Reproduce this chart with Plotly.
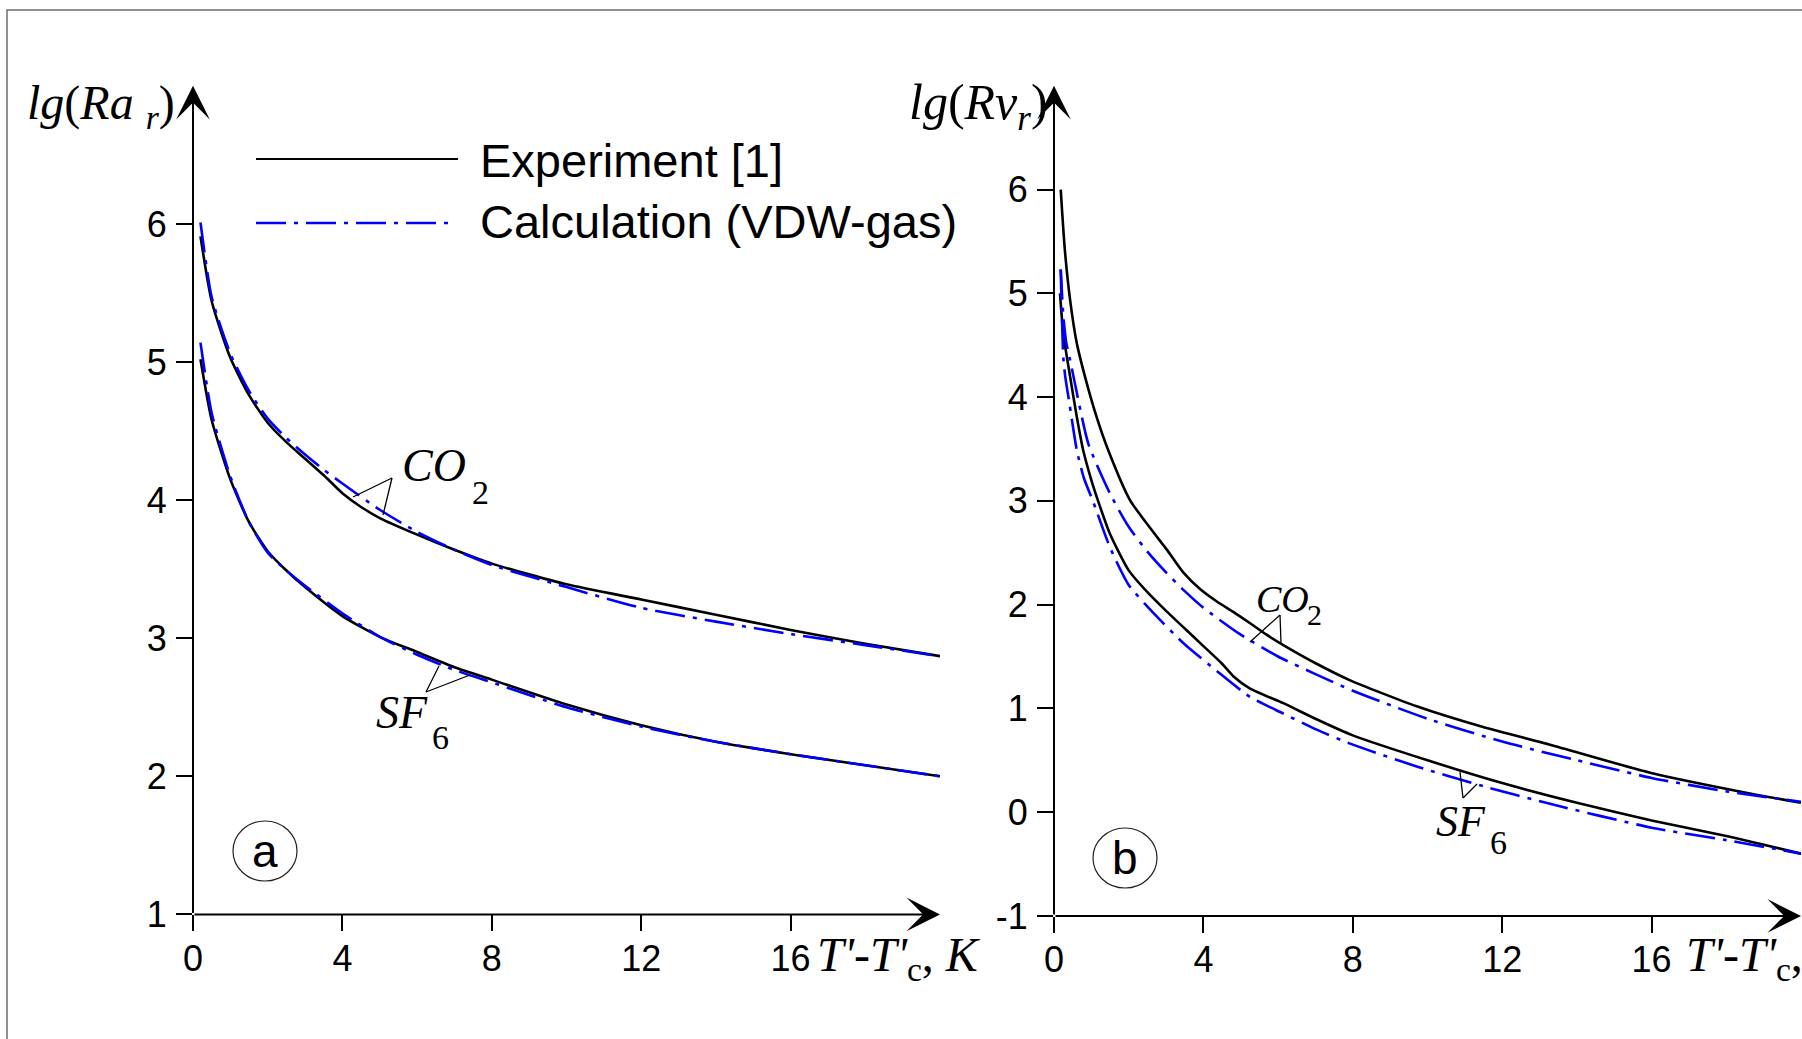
import plotly.graph_objects as go

W, H = 1802, 1039

# ---------------- data ----------------
# panel a : lg(Ra_r) vs T'-T'c
co2_exp_a_x = [0.2, 0.5, 1.0, 1.5, 2.0, 2.5, 3.0, 3.5, 4.0, 4.5, 5.0, 6.0, 7.0, 8.0, 10.0, 12.0, 14.0, 16.0, 18.0, 20.0]
co2_exp_a_y = [5.91, 5.44, 5.03, 4.76, 4.56, 4.42, 4.30, 4.18, 4.05, 3.95, 3.87, 3.75, 3.64, 3.54, 3.39, 3.28, 3.17, 3.06, 2.96, 2.87]
co2_calc_a_x = [0.2, 0.5, 1.0, 1.5, 2.0, 2.5, 3.0, 3.5, 4.0, 5.0, 6.0, 7.0, 8.0, 10.0, 12.0, 14.0, 16.0, 18.0, 20.0]
co2_calc_a_y = [6.01, 5.47, 5.06, 4.79, 4.59, 4.45, 4.33, 4.22, 4.12, 3.93, 3.77, 3.64, 3.53, 3.37, 3.22, 3.12, 3.03, 2.95, 2.87]
sf6_exp_a_x = [0.2, 0.5, 1.0, 1.5, 2.0, 2.5, 3.0, 4.0, 5.0, 6.0, 7.0, 8.0, 10.0, 12.0, 14.0, 16.0, 18.0, 20.0]
sf6_exp_a_y = [5.02, 4.58, 4.15, 3.84, 3.63, 3.49, 3.37, 3.16, 3.01, 2.90, 2.79, 2.70, 2.52, 2.37, 2.25, 2.16, 2.08, 2.00]
sf6_calc_a_x = [0.2, 0.5, 1.0, 1.5, 2.0, 2.5, 3.0, 4.0, 5.0, 6.0, 7.0, 8.0, 10.0, 12.0, 14.0, 16.0, 18.0, 20.0]
sf6_calc_a_y = [5.14, 4.63, 4.17, 3.84, 3.62, 3.49, 3.38, 3.18, 3.01, 2.88, 2.77, 2.68, 2.50, 2.36, 2.25, 2.16, 2.08, 2.00]

# panel b : lg(Rv_r) vs T'-T'c
co2_exp_b_x = [0.18, 0.29, 0.43, 0.61, 0.88, 1.14, 1.45, 2.03, 2.57, 3.02, 3.46, 3.91, 4.36, 4.8, 5.25, 5.69, 6.14, 7.03, 7.93, 9.71, 11.49, 13.28, 15.96, 18.63, 20.0]
co2_exp_b_y = [6.00, 5.42, 4.94, 4.52, 4.13, 3.81, 3.49, 3.01, 2.74, 2.53, 2.31, 2.15, 2.03, 1.93, 1.82, 1.71, 1.61, 1.43, 1.27, 1.02, 0.82, 0.65, 0.38, 0.18, 0.09]
co2_calc_b_x = [0.18, 0.25, 0.33, 0.43, 0.56, 0.92, 1.5, 2.0, 2.5, 3.0, 3.5, 4.0, 5.0, 6.0, 7.0, 8.0, 10.0, 12.0, 14.0, 16.0, 18.0, 20.0]
co2_calc_b_y = [5.23, 4.78, 4.52, 4.36, 4.13, 3.55, 3.07, 2.75, 2.51, 2.31, 2.13, 1.97, 1.71, 1.50, 1.33, 1.17, 0.90, 0.68, 0.50, 0.33, 0.20, 0.10]
sf6_exp_b_x = [0.16, 0.25, 0.43, 0.61, 0.78, 1.0, 1.17, 1.5, 2.0, 2.5, 3.0, 3.5, 4.0, 4.5, 4.8, 5.25, 6.14, 7.0, 8.0, 10.0, 12.0, 14.0, 16.0, 18.0, 20.0]
sf6_exp_b_y = [5.00, 4.61, 4.20, 3.81, 3.49, 3.20, 3.01, 2.68, 2.33, 2.12, 1.94, 1.77, 1.60, 1.43, 1.31, 1.19, 1.05, 0.90, 0.74, 0.50, 0.28, 0.09, -0.08, -0.23, -0.40]
sf6_calc_b_x = [0.18, 0.21, 0.25, 0.3, 0.4, 0.61, 0.8, 1.04, 1.5, 2.0, 2.66, 3.46, 4.36, 5.25, 6.14, 7.0, 7.93, 9.71, 11.49, 13.28, 16.0, 18.0, 20.0]
sf6_calc_b_y = [5.23, 4.80, 4.38, 4.20, 3.97, 3.49, 3.22, 3.00, 2.55, 2.19, 1.92, 1.63, 1.36, 1.11, 0.95, 0.80, 0.66, 0.44, 0.25, 0.08, -0.15, -0.27, -0.40]

x_ticks = [0, 4, 8, 12, 16]
x_tick_text = ["0", "4", "8", "12", "16"]
ya_ticks = [1, 2, 3, 4, 5, 6]
ya_tick_text = ["1", "2", "3", "4", "5", "6"]
yb_ticks = [-1, 0, 1, 2, 3, 4, 5, 6]
yb_tick_text = ["-1", "0", "1", "2", "3", "4", "5", "6"]

legend_labels = ["Experiment [1]", "Calculation (VDW-gas)"]

# ---------------- helpers ----------------
def PX(x):
    return x / W

def PY(y):
    return 1 - y / H

SANS = "Liberation Sans, Arial, sans-serif"
SERIF = "Liberation Serif, Times New Roman, serif"
BLUE = "#0000FF"
DASHDOT = "30px,8px,4px,8px"

fig = go.Figure()

def add_curve(x, y, xa, ya, calc):
    fig.add_trace(go.Scatter(
        x=x, y=y, xaxis=xa, yaxis=ya, mode="lines",
        line=dict(color=BLUE if calc else "black", width=2.6,
                  dash=DASHDOT if calc else "solid",
                  shape="spline", smoothing=0.6),
        hoverinfo="skip", showlegend=False, cliponaxis=False))

add_curve(co2_exp_a_x, co2_exp_a_y, "x", "y", False)
add_curve(sf6_exp_a_x, sf6_exp_a_y, "x", "y", False)
add_curve(co2_calc_a_x, co2_calc_a_y, "x", "y", True)
add_curve(sf6_calc_a_x, sf6_calc_a_y, "x", "y", True)
add_curve(co2_exp_b_x, co2_exp_b_y, "x2", "y2", False)
add_curve(sf6_exp_b_x, sf6_exp_b_y, "x2", "y2", False)
add_curve(co2_calc_b_x, co2_calc_b_y, "x2", "y2", True)
add_curve(sf6_calc_b_x, sf6_calc_b_y, "x2", "y2", True)

axis_common = dict(showgrid=False, zeroline=False, showline=False, automargin=False,
                   ticks="outside", ticklen=16, tickwidth=2, tickcolor="black",
                   tickfont=dict(family=SANS, size=36, color="black"),
                   fixedrange=True)

fig.update_layout(
    width=W, height=H, autosize=False,
    margin=dict(l=0, r=0, t=0, b=0, pad=0, autoexpand=False),
    paper_bgcolor="white", plot_bgcolor="rgba(0,0,0,0)",
    showlegend=False,
    xaxis=dict(domain=[PX(193), PX(940)], range=[0, 20], anchor="y",
               tickvals=x_ticks, ticktext=x_tick_text, ticklabelstandoff=-4, **axis_common),
    yaxis=dict(domain=[PY(914.4), PY(85.8)], range=[1, 7], anchor="x",
               tickvals=ya_ticks, ticktext=ya_tick_text, ticklabelstandoff=2, **axis_common),
    xaxis2=dict(domain=[PX(1054), PX(1801)], range=[0, 20], anchor="y2",
                tickvals=x_ticks, ticktext=x_tick_text, ticklabelstandoff=-4, **axis_common),
    yaxis2=dict(domain=[PY(915.9), PY(85.8)], range=[-1, 7], anchor="x2",
                tickvals=yb_ticks, ticktext=yb_tick_text, ticklabelstandoff=2, **axis_common),
)

ann = []
shapes = []

# axes drawn as arrows
def axis_arrow(xr, yr, x0, y0, x1, y1):
    ann.append(dict(x=x1, y=y1, ax=x0, ay=y0, xref=xr, yref=yr, axref=xr, ayref=yr,
                    text="", showarrow=True, arrowhead=3, arrowsize=2.8,
                    arrowwidth=2, arrowcolor="black", standoff=0))

axis_arrow("x", "y", 0, 1, 20, 1)
axis_arrow("x", "y", 0, 1, 0, 7)
axis_arrow("x2", "y2", 0, -1, 20, -1)
axis_arrow("x2", "y2", 0, -1, 0, 7)

# outer frame
shapes.append(dict(type="rect", xref="paper", yref="paper",
                   x0=PX(7), y0=PY(1100), x1=PX(1900), y1=PY(10),
                   line=dict(color="#6e6e6e", width=1.5), fillcolor="rgba(0,0,0,0)"))

# legend (long line samples)
shapes.append(dict(type="line", xref="paper", yref="paper",
                   x0=PX(256), x1=PX(458), y0=PY(159), y1=PY(159),
                   line=dict(color="black", width=2)))
shapes.append(dict(type="line", xref="paper", yref="paper",
                   x0=PX(256), x1=PX(454), y0=PY(223), y1=PY(223),
                   line=dict(color=BLUE, width=2.5, dash=DASHDOT)))

def text(x, y, t, family, size, xanchor="left", yanchor="middle"):
    ann.append(dict(x=PX(x), y=PY(y), xref="paper", yref="paper", text=t,
                    showarrow=False, xanchor=xanchor, yanchor=yanchor,
                    font=dict(family=family, size=size, color="black")))

text(478, 160, legend_labels[0], SANS, 47)
text(478, 221, legend_labels[1], SANS, 47)

# axis titles
text(177, 106, "<i>lg</i>(<i>Ra</i> <i><sub>r</sub></i>)", SERIF, 48, xanchor="right")
text(1050, 106, "<i>lg</i>(<i>Rv<sub>r</sub></i>)", SERIF, 50, xanchor="right")
text(815, 958, "<i>T'</i>-<i>T'</i><sub>c</sub>, <i>K</i>", SERIF, 48)
text(1684, 958, "<i>T'</i>-<i>T'</i><sub>c</sub>, <i>K</i>", SERIF, 48)

# curve labels
text(400, 465, "<i>CO</i>", SERIF, 46)
text(470, 493, "2", SERIF, 34)
text(374, 712, "<i>SF</i>", SERIF, 46)
text(430, 737, "6", SERIF, 34)
text(1254, 599, "<i>CO</i>", SERIF, 38)
text(1305, 614, "2", SERIF, 30)
text(1434, 821, "<i>SF</i>", SERIF, 44)
text(1488, 842, "6", SERIF, 34)

# leader lines
def leader(ax_, ay_, bx, by):
    shapes.append(dict(type="line", xref="paper", yref="paper",
                       x0=PX(ax_), y0=PY(ay_), x1=PX(bx), y1=PY(by),
                       line=dict(color="black", width=1.3)))

leader(392, 478, 353, 497)
leader(392, 478, 383, 515)
leader(426, 692, 439, 666)
leader(426, 692, 470, 675)
leader(1280, 615, 1250, 642)
leader(1280, 615, 1281, 643)
leader(1463, 798, 1460, 772)
leader(1463, 798, 1477, 784)

# panel marks (circled letters)
for cx, cy, letter in [(265, 851, "a"), (1125, 858, "b")]:
    shapes.append(dict(type="circle", xref="paper", yref="paper",
                       x0=PX(cx - 32), x1=PX(cx + 32), y0=PY(cy + 30), y1=PY(cy - 30),
                       line=dict(color="#222222", width=1.2)))
    text(cx, cy, letter, SANS, 46, xanchor="center")

fig.update_layout(annotations=ann, shapes=shapes)
fig.write_html("out.html", config={"displayModeBar": False, "responsive": False},
               post_script="document.body.style.margin='0px';document.body.style.overflow='hidden';")
